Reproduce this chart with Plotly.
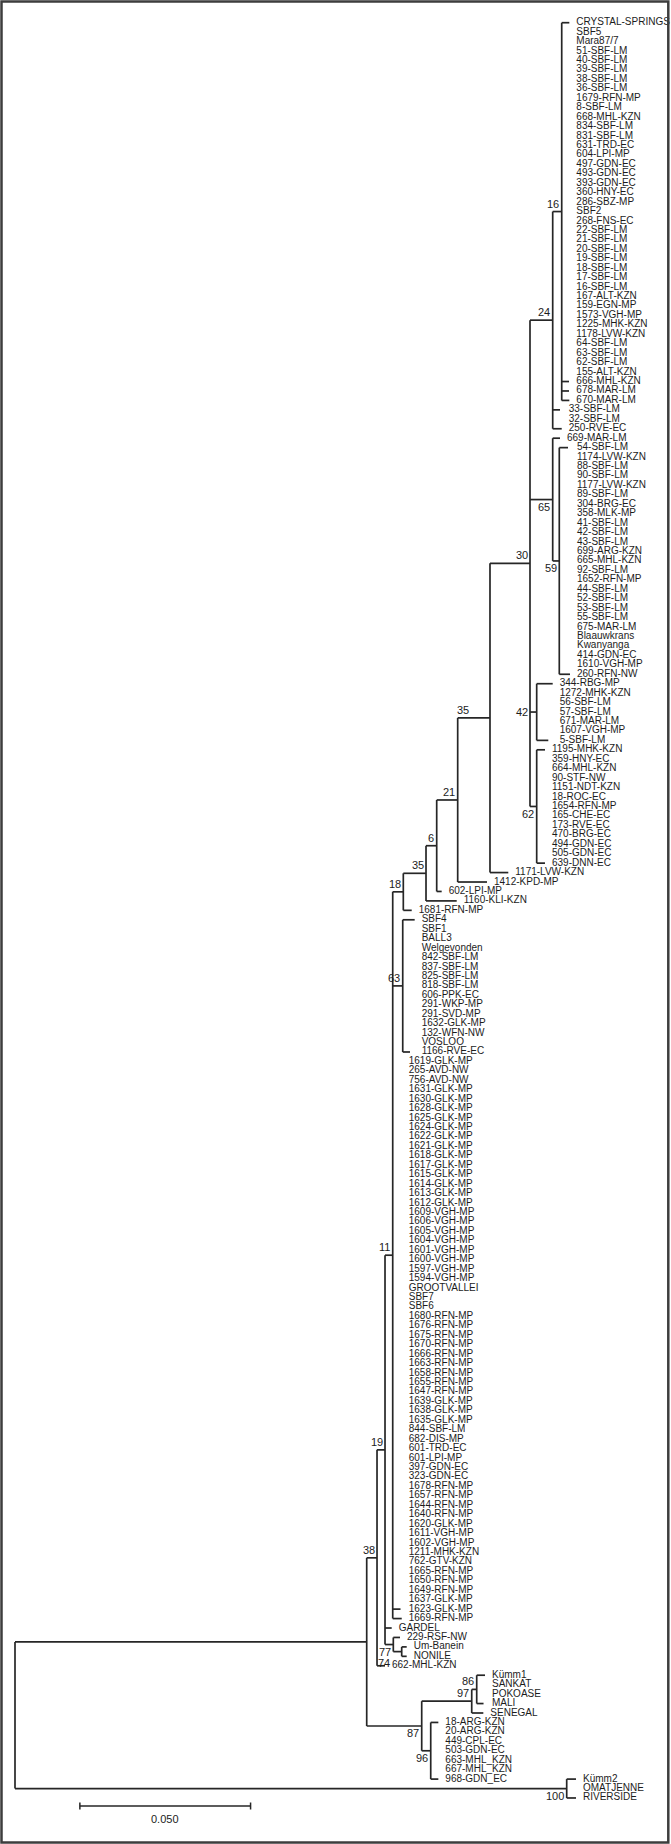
import plotly.graph_objects as go

# ---------------- data: tree topology, branch lengths (substitutions/site) and bootstrap values ----------------
clade_16 = ("(CRYSTAL-SPRINGS:0.00223,SBF5,Mara87/7,51-SBF-LM,40-SBF-LM,39-SBF-LM,38-SBF-LM,"
            "36-SBF-LM,1679-RFN-MP,8-SBF-LM,668-MHL-KZN,834-SBF-LM,831-SBF-LM,631-TRD-EC,"
            "604-LPI-MP,497-GDN-EC,493-GDN-EC,393-GDN-EC,360-HNY-EC,286-SBZ-MP,SBF2,268-FNS-EC,"
            "22-SBF-LM,21-SBF-LM,20-SBF-LM,19-SBF-LM,18-SBF-LM,17-SBF-LM,16-SBF-LM,167-ALT-KZN,"
            "159-EGN-MP,1573-VGH-MP,1225-MHK-KZN,1178-LVW-KZN,64-SBF-LM,63-SBF-LM,62-SBF-LM,"
            "155-ALT-KZN,666-MHL-KZN:0.00214,678-MAR-LM:0.00214,670-MAR-LM:0.00223)16:0.00264")
clade_24 = f"({clade_16},33-SBF-LM:0.00214,32-SBF-LM,250-RVE-EC:0.00264)24:0.00665"
clade_59 = ("(54-SBF-LM:0.00255,1174-LVW-KZN,88-SBF-LM,90-SBF-LM,1177-LVW-KZN,89-SBF-LM,304-BRG-EC,"
            "358-MLK-MP,41-SBF-LM,42-SBF-LM,43-SBF-LM,699-ARG-KZN,665-MHL-KZN,92-SBF-LM,1652-RFN-MP,"
            "44-SBF-LM,52-SBF-LM,53-SBF-LM,55-SBF-LM,675-MAR-LM,Blaauwkrans,Kwanyanga,414-GDN-EC,"
            "1610-VGH-MP,260-RFN-NW:0.00313)59:0.00193")
clade_65 = f"(669-MAR-LM:0.00214,{clade_59})65:0.00665"
clade_42 = ("(344-RBG-MP:0.00469,1272-MHK-KZN,56-SBF-LM,57-SBF-LM,671-MAR-LM,1607-VGH-MP,"
            "5-SBF-LM:0.0034)42:0.00196")
clade_62 = ("(1195-MHK-KZN:0.00243,359-HNY-EC,664-MHL-KZN,90-STF-NW,1151-NDT-KZN,18-ROC-EC,"
            "1654-RFN-MP,165-CHE-EC,173-RVE-EC,470-BRG-EC,494-GDN-EC,505-GDN-EC,"
            "639-DNN-EC:0.00243)62:0.00196")
clade_30 = f"({clade_24},{clade_65},{clade_42},{clade_62})30:0.01172"
clade_35a = f"({clade_30},1171-LVW-KZN:0.00536)35:0.00946"
clade_21 = f"({clade_35a},1412-KPD-MP:0.00858)21:0.00615"
clade_6 = f"({clade_21},602-LPI-MP:0.00146)6:0.00313"
clade_35b = f"({clade_6},1160-KLI-KZN:0.00899)35:0.00665"
clade_18 = f"({clade_35b},1681-RFN-MP:0.00246)18:0.0031"
clade_63 = ("(SBF4:0.0035,SBF1,BALL3,Welgevonden,842-SBF-LM,837-SBF-LM,825-SBF-LM,818-SBF-LM,"
            "606-PPK-EC,291-WKP-MP,291-SVD-MP,1632-GLK-MP,132-WFN-NW,VOSLOO,"
            "1166-RVE-EC:0.00214)63:0.00293")
clade_11 = (f"({clade_18},{clade_63},1619-GLK-MP,265-AVD-NW,756-AVD-NW,1631-GLK-MP,1630-GLK-MP,"
            "1628-GLK-MP,1625-GLK-MP,1624-GLK-MP,1622-GLK-MP,1621-GLK-MP,1618-GLK-MP,1617-GLK-MP,"
            "1615-GLK-MP,1614-GLK-MP,1613-GLK-MP,1612-GLK-MP,1609-VGH-MP,1606-VGH-MP,1605-VGH-MP,"
            "1604-VGH-MP,1601-VGH-MP,1600-VGH-MP,1597-VGH-MP,1594-VGH-MP,GROOTVALLEI,SBF7,SBF6,"
            "1680-RFN-MP,1676-RFN-MP,1675-RFN-MP,1670-RFN-MP,1666-RFN-MP,1663-RFN-MP,1658-RFN-MP,"
            "1655-RFN-MP,1647-RFN-MP,1639-GLK-MP,1638-GLK-MP,1635-GLK-MP,844-SBF-LM,682-DIS-MP,"
            "601-TRD-EC,601-LPI-MP,397-GDN-EC,323-GDN-EC,1678-RFN-MP,1657-RFN-MP,1644-RFN-MP,"
            "1640-RFN-MP,1620-GLK-MP,1611-VGH-MP,1602-VGH-MP,1211-MHK-KZN,762-GTV-KZN,1665-RFN-MP,"
            "1650-RFN-MP,1649-RFN-MP,1637-GLK-MP,1623-GLK-MP:0.00228,1669-RFN-MP:0.00264)11:0.00226")
clade_74 = "(Um-Banein:0.00146,NONILE:0.00146)74:0.00246"
clade_77 = f"(229-RSF-NW:0.00196,{clade_74})77:0.00243"
clade_19 = f"({clade_11},GARDEL:0.00196,{clade_77})19:0.00234"
clade_38 = f"({clade_19},662-MHL-KZN:0.00234)38:0.00302"
clade_86 = "(Kümm1:0.00243,SANKAT,POKOASE,MALI:0.002)86:0.00146"
clade_97 = f"({clade_86},SENEGAL:0.0034)97:0.01465"
clade_96 = ("(18-ARG-KZN:0.00223,20-ARG-KZN,449-CPL-EC,503-GDN-EC,663-MHL_KZN,667-MHL_KZN,"
            "968-GDN_EC:0.00223)96:0.00264")
clade_87 = f"({clade_97},{clade_96})87:0.01611"
ingroup = f"({clade_38},{clade_87}):0.10302"
outgroup = "(Kümm2:0.00272,OMATJENNE,RIVERSIDE:0.00272)100:0.1616"
tree_newick = f"({ingroup},{outgroup});"

outgroup_tips = ["Kümm2", "OMATJENNE", "RIVERSIDE"]
scale_bar_length = 0.05
scale_bar_label = "0.050"

# ---------------- style / layout ----------------
W, H = 671, 1844
ROOT_PX = 15.0          # pixel x of root
PX_PER_UNIT = 3414.0    # pixels per substitution/site
ROW0_PX = 22.7          # pixel y of first tip row
ROW_PX = 9.443          # pixel spacing of tip rows
OUTGROUP_ROW_SHIFT = -1
LABEL_GAP_PX = 7
SCALE_X0 = 0.019
SCALE_Y_PX = 1806
LINE_COLOR = "#262626"
TEXT_COLOR = "#1c1c1c"
FONT = "Liberation Sans Narrow, Arial Narrow, sans-serif"
# support label placement: a = above-left, b = below-left, p = above at parent,
# m = left of parent, q = below-left of parent
SUPPORT_MODE = {"100|RIVERSIDE": "b", "87|968-GDN_EC": "b", "96|968-GDN_EC": "b",
                "77|NONILE": "b", "74|NONILE": "q", "35|1171-LVW-KZN": "p",
                "65|260-RFN-NW": "b", "59|260-RFN-NW": "b", "42|5-SBF-LM": "m",
                "62|639-DNN-EC": "b"}


def parse_newick(text):
    s = "".join(text.split()).rstrip(";")
    pos = 0

    def node():
        nonlocal pos
        n = {"children": [], "name": "", "length": 0.0, "parent": None}
        if s[pos] == "(":
            pos += 1
            while True:
                c = node()
                c["parent"] = n
                n["children"].append(c)
                if s[pos] == ",":
                    pos += 1
                    continue
                pos += 1  # ')'
                break
        start = pos
        while pos < len(s) and s[pos] not in ",():":
            pos += 1
        n["name"] = s[start:pos]
        if pos < len(s) and s[pos] == ":":
            pos += 1
            start = pos
            while pos < len(s) and s[pos] not in ",()":
                pos += 1
            n["length"] = float(s[start:pos])
        return n

    return node()


root = parse_newick(tree_newick)
root["length"] = 0.0
tips, internals = [], []


def place_x(n, x0):
    n["x"] = x0 + n["length"]
    if n["children"]:
        internals.append(n)
        for c in n["children"]:
            place_x(c, n["x"])
    else:
        tips.append(n)


place_x(root, 0.0)
for i, t in enumerate(tips):
    t["y"] = i + (OUTGROUP_ROW_SHIFT if t["name"] in outgroup_tips else 0)


def place_y(n):
    if n["children"]:
        for c in n["children"]:
            place_y(c)
        n["y"] = (n["children"][0]["y"] + n["children"][-1]["y"]) / 2


place_y(root)


def last_tip(n):
    while n["children"]:
        n = n["children"][-1]
    return n["name"]


px = 1.0 / PX_PER_UNIT   # data units per pixel (x)
py = 1.0 / ROW_PX        # rows per pixel (y)

# branches
lx, ly = [], []
for n in internals:
    ch = n["children"]
    lx += [n["x"], n["x"], None]
    ly += [ch[0]["y"], ch[-1]["y"], None]
    for c in ch:
        if c["x"] > n["x"]:
            lx += [n["x"], c["x"], None]
            ly += [c["y"], c["y"], None]

# tip labels
tx, ty, tt = [], [], []
for n in internals:
    tc = [c for c in n["children"] if not c["children"]]
    if not tc:
        continue
    col = max(c["x"] for c in tc) + LABEL_GAP_PX * px
    for c in tc:
        tx.append(col)
        ty.append(c["y"])
        tt.append(c["name"])

fig = go.Figure()
fig.add_trace(go.Scatter(x=lx, y=ly, mode="lines", line=dict(color=LINE_COLOR, width=1.7),
                         hoverinfo="skip", showlegend=False))
fig.add_trace(go.Scatter(x=tx, y=ty, mode="text", text=tt, textposition="middle right",
                         textfont=dict(family=FONT, size=10, color=TEXT_COLOR),
                         hoverinfo="skip", showlegend=False))

# bootstrap values
for n in internals:
    if not n["name"]:
        continue
    mode = SUPPORT_MODE.get(f"{n['name']}|{last_tip(n)}", "a")
    par = n["parent"]
    if mode == "a":
        ax, ay, xa, ya = n["x"] - 1.5 * px, n["y"] - 1.0 * py, "right", "bottom"
    elif mode == "b":
        ax, ay, xa, ya = n["x"] - 1.5 * px, n["y"] + 0.5 * py, "right", "top"
    elif mode == "p":
        ax, ay, xa, ya = par["x"] - 2 * px, n["y"] - 1.0 * py, "left", "bottom"
    elif mode == "q":
        ax, ay, xa, ya = par["x"] - 2.5 * px, n["y"] + 4.5 * py, "right", "top"
    else:
        ax, ay, xa, ya = par["x"] - 1.5 * px, n["y"], "right", "middle"
    fig.add_annotation(x=ax, y=ay, text=n["name"], showarrow=False, xanchor=xa, yanchor=ya,
                       borderpad=0, font=dict(family=FONT, size=11, color=TEXT_COLOR))

# scale bar
sy = (SCALE_Y_PX - ROW0_PX) / ROW_PX
tick = 3.5 * py
fig.add_trace(go.Scatter(
    x=[SCALE_X0, SCALE_X0 + scale_bar_length, None, SCALE_X0, SCALE_X0, None,
       SCALE_X0 + scale_bar_length, SCALE_X0 + scale_bar_length],
    y=[sy, sy, None, sy - tick, sy + tick, None, sy - tick, sy + tick],
    mode="lines", line=dict(color=LINE_COLOR, width=1.5), hoverinfo="skip", showlegend=False))
fig.add_annotation(x=SCALE_X0 + scale_bar_length / 2, y=sy + 6 * py, text=scale_bar_label,
                   showarrow=False, xanchor="center", yanchor="top", borderpad=0,
                   font=dict(family=FONT, size=11, color=TEXT_COLOR))

# frame
fig.add_shape(type="rect", xref="paper", yref="paper",
              x0=1.5 / W, x1=668.3 / W, y0=1 - 1842.5 / H, y1=1 - 1.5 / H,
              line=dict(color="#3d3d3d", width=2.5), fillcolor="rgba(0,0,0,0)")

fig.update_layout(
    width=W, height=H, autosize=False,
    margin=dict(l=0, r=0, t=0, b=0, pad=0),
    paper_bgcolor="white", plot_bgcolor="white",
    xaxis=dict(range=[-ROOT_PX / PX_PER_UNIT, (W - ROOT_PX) / PX_PER_UNIT], visible=False,
               fixedrange=True),
    yaxis=dict(range=[(H - ROW0_PX) / ROW_PX, -ROW0_PX / ROW_PX], visible=False, fixedrange=True),
)

fig.write_html("out.html", config={"displayModeBar": False},
               post_script="document.body.style.margin='0px';")
